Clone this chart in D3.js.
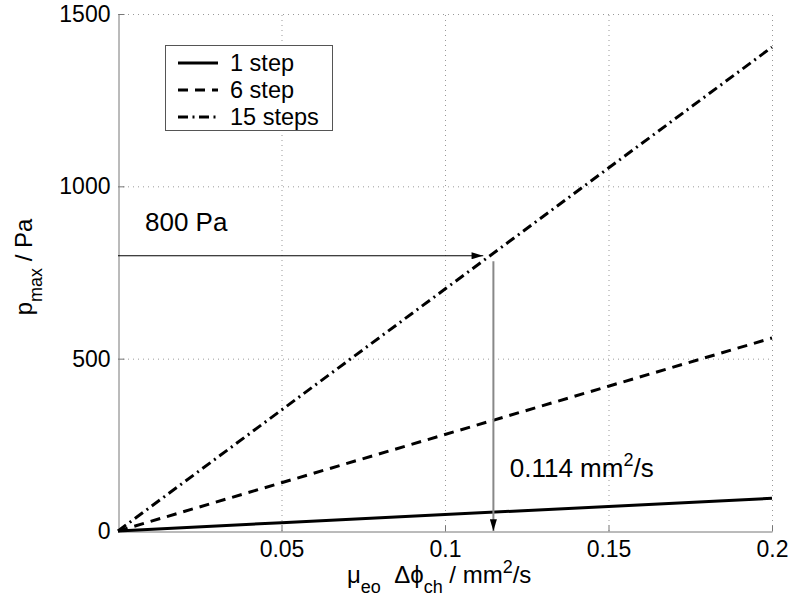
<!DOCTYPE html>
<html>
  <head>
    <meta charset="UTF-8" />
    <script src="https://cdn.jsdelivr.net/npm/d3@7"></script>
    <style>
      body { margin: 0; background: #fff; }
      svg { display: block; font-family: "Liberation Sans", Arial, sans-serif; }
    </style>
  </head>
  <body>
    <svg></svg>
    <script>
      // data
      const xs = [0, 0.05, 0.1, 0.15, 0.2]
      const step1 = [0, 24, 48, 71, 95]
      const step6 = [0, 140, 280, 420, 560]
      const step15 = [0, 351, 702, 1053, 1404]
      const seriesNames = ["1 step", "6 step", "15 steps"]
      const xTicks = [0.05, 0.1, 0.15, 0.2]
      const yTicks = [0, 500, 1000, 1500]
      const markP = 800
      const markX = 0.114

      const width = 790
      const height = 598
      const marge = { top: 14, bottom: 67, left: 118, right: 18 }
      const dashes = [null, "10,7", "10,4.5,2,4.5"]
      const axisColor = "#777"

      const svg = d3.select("svg").attr("width", width).attr("height", height)

      const x = d3.scaleLinear().domain([0, 0.2]).range([marge.left, width - marge.right])
      const y = d3.scaleLinear().domain([0, 1500]).range([height - marge.bottom, marge.top])

      // grid
      const grid = svg.append("g").attr("stroke", "#999").attr("stroke-width", 1).attr("stroke-dasharray", "1,4")
      grid.selectAll(".gx").data(xTicks).join("line")
        .attr("x1", d => x(d) + 0.5).attr("x2", d => x(d) + 0.5)
        .attr("y1", y(0)).attr("y2", y(1500))
      grid.selectAll(".gy").data(yTicks.slice(1)).join("line")
        .attr("y1", d => y(d) + 0.5).attr("y2", d => y(d) + 0.5)
        .attr("x1", x(0)).attr("x2", x(0.2))

      // axes
      const xAxis = svg.append("g")
        .attr("transform", `translate(0,${y(0) + 0.5})`)
        .call(d3.axisBottom(x).tickValues(xTicks).tickSizeInner(-6).tickSizeOuter(0).tickPadding(9).tickFormat(d3.format("")))
      const yAxis = svg.append("g")
        .attr("transform", `translate(${x(0) + 0.5},0)`)
        .call(d3.axisLeft(y).tickValues(yTicks).tickSizeInner(-6).tickSizeOuter(0).tickPadding(8).tickFormat(d3.format("d")))
      for (const g of [xAxis, yAxis]) {
        g.select(".domain").attr("stroke", axisColor)
        g.selectAll(".tick line").attr("stroke", axisColor)
        g.selectAll(".tick text").attr("fill", "#000").attr("font-size", 23).attr("font-family", "Liberation Sans, Arial, sans-serif")
      }
      xAxis.selectAll(".tick text").attr("dy", "0.71em")

      // series
      const series = [step1, step6, step15]
      const line = d3.line().x((d, i) => x(xs[i])).y(d => y(d))
      svg.append("g").selectAll("path").data(series).join("path")
        .attr("d", d => line(d))
        .attr("fill", "none")
        .attr("stroke", "#000")
        .attr("stroke-width", 3)
        .attr("stroke-dasharray", (d, i) => dashes[i])

      // annotation arrows
      const defs = svg.append("defs")
      defs.append("marker").attr("id", "ah")
        .attr("viewBox", "0 0 10 6").attr("refX", 10).attr("refY", 3)
        .attr("markerWidth", 12).attr("markerHeight", 7).attr("markerUnits", "userSpaceOnUse")
        .attr("orient", "auto")
        .append("path").attr("d", "M0,0 L10,3 L0,6 Z").attr("fill", "#000")

      svg.append("line")
        .attr("x1", x(0)).attr("x2", x(0.1117))
        .attr("y1", y(markP) + 0.5).attr("y2", y(markP) + 0.5)
        .attr("stroke", "#000").attr("stroke-width", 1.2)
        .attr("marker-end", "url(#ah)")
      svg.append("line")
        .attr("x1", x(markX + 0.0008)).attr("x2", x(markX + 0.0008))
        .attr("y1", y(markP) + 6).attr("y2", y(0))
        .attr("stroke", "#888").attr("stroke-width", 2)
        .attr("marker-end", "url(#ah)")

      svg.append("text")
        .attr("x", x(0) + 27).attr("y", y(markP) - 24)
        .attr("font-size", 26)
        .text(`${markP} Pa`)
      const t2 = svg.append("text")
        .attr("x", x(markX) + 19).attr("y", 477)
        .attr("font-size", 26)
      t2.append("tspan").text(`${markX} mm`)
      t2.append("tspan").attr("dy", -11).attr("font-size", 18).text("2")
      t2.append("tspan").attr("dy", 11).text("/s")

      // legend
      const lg = svg.append("g")
      lg.append("rect").attr("x", 165.5).attr("y", 45.5).attr("width", 167).attr("height", 85)
        .attr("fill", "#fff").attr("stroke", "#555").attr("stroke-width", 1)
      const rows = lg.selectAll(".row").data(seriesNames).join("g")
        .attr("transform", (d, i) => `translate(0,${[63, 90, 117][i]})`)
      rows.append("line").attr("x1", 178).attr("x2", 218)
        .attr("stroke", "#000").attr("stroke-width", 3)
        .attr("stroke-dasharray", (d, i) => dashes[i])
      rows.append("text").attr("x", 230).attr("y", 8).attr("font-size", 23.5).text(d => d)

      // axis labels
      const xl = svg.append("text").attr("x", 347).attr("y", 583).attr("font-size", 24)
      xl.append("tspan").text("μ")
      xl.append("tspan").attr("dy", 10).attr("font-size", 18).text("eo")
      xl.append("tspan").attr("dy", -10).text("\u00a0\u00a0Δϕ")
      xl.append("tspan").attr("dy", 10).attr("font-size", 18).text("ch")
      xl.append("tspan").attr("dy", -10).text(" / mm")
      xl.append("tspan").attr("dy", -10).attr("font-size", 18).text("2")
      xl.append("tspan").attr("dy", 10).text("/s")

      const yl = svg.append("text")
        .attr("transform", "translate(32,267) rotate(-90)")
        .attr("text-anchor", "middle").attr("font-size", 24)
      yl.append("tspan").text("p")
      yl.append("tspan").attr("dy", 10).attr("font-size", 18).text("max")
      yl.append("tspan").attr("dy", -10).text(" / Pa")
    </script>
  </body>
</html>
